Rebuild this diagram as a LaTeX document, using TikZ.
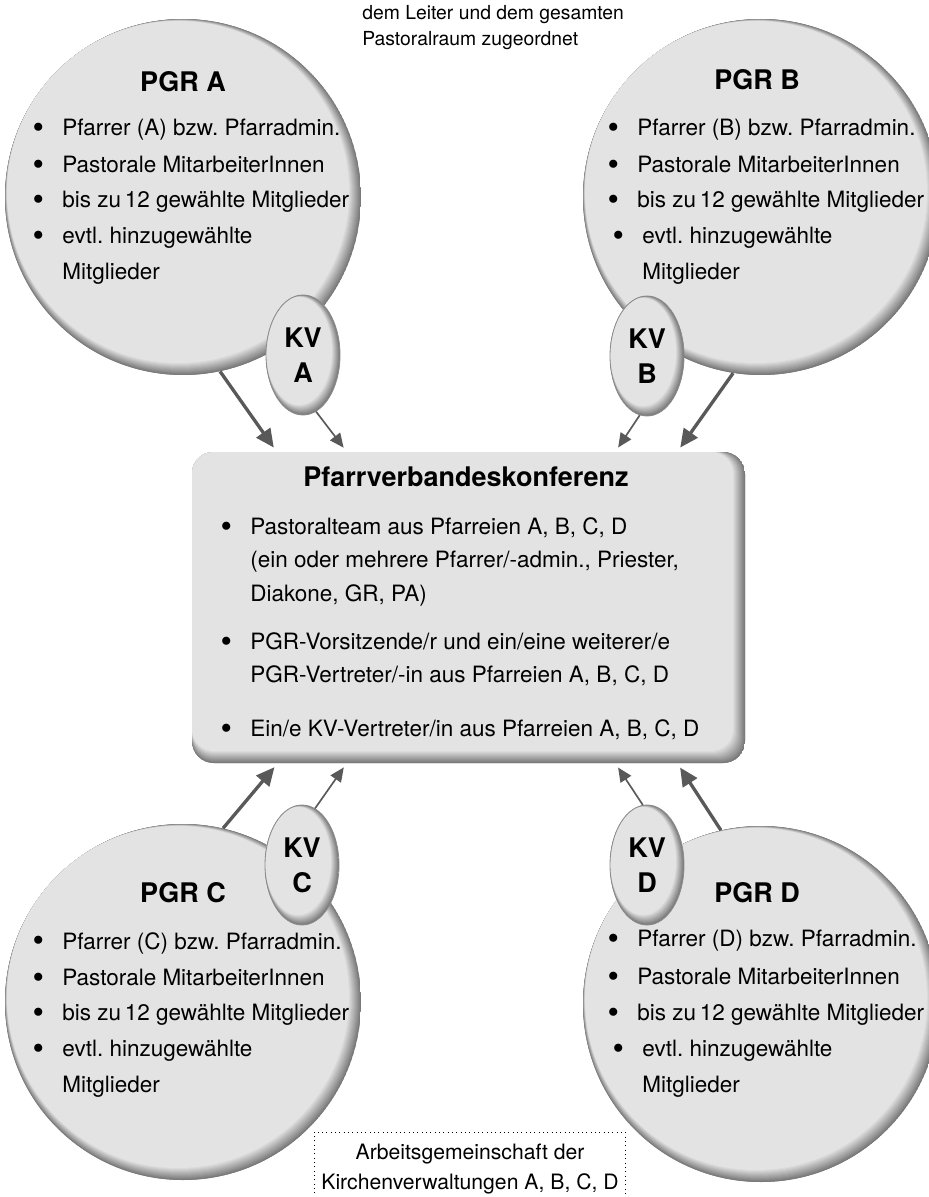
\documentclass[tikz,border=0pt]{standalone}
\usepackage{fontspec}
\setmainfont{TeX Gyre Heros}
\usetikzlibrary{arrows.meta,shapes.geometric,calc}

\definecolor{disc}{HTML}{E3E3E3}
\definecolor{rim}{HTML}{7A7A7A}
\definecolor{arrowgray}{HTML}{595959}
\definecolor{ovalrim}{HTML}{8C8C8C}

\newcommand{\bul}{\llap{\raisebox{-0.25ex}{\scalebox{1.45}{\textbullet}}\hspace{11pt}}}

\tikzset{
  pgrdisc/.style={circle, minimum size=213.6pt, inner sep=0pt,
    path picture={
      \fill [rim] (path picture bounding box.south west) rectangle (path picture bounding box.north east);
      \foreach \k in {0,...,12} {
        \pgfmathtruncatemacro\pc{100*\k/12}
        \fill [disc!\pc!rim] ([shift={({-0.25*\k*1pt},{0.25*\k*1pt})}]path picture bounding box.center)
          circle [radius={106.8pt-0.35*\k*1pt}];
      }
    }},
  konfbox/.style={rectangle, rounded corners=13pt, minimum width=331.8pt, minimum height=186.6pt, inner sep=0pt,
    path picture={
      \fill [rim] (path picture bounding box.south west) rectangle (path picture bounding box.north east);
      \foreach \k in {0,...,12} {
        \pgfmathtruncatemacro\pc{100*\k/12}
        \fill [disc!\pc!rim, rounded corners=13pt] (path picture bounding box.north west)
          rectangle ([shift={({-0.6*\k*1pt},{0.6*\k*1pt})}]path picture bounding box.south east);
      }
    }},
  kvoval/.style={ellipse, draw=ovalrim, line width=0.5pt, minimum width=44.4pt, minimum height=72pt,
    inner sep=0pt, align=center, font=\fontsize{16.2}{21}\selectfont\bfseries,
    path picture={
      \fill [rim] (path picture bounding box.south west) rectangle (path picture bounding box.north east);
      \foreach \k in {0,...,12} {
        \pgfmathtruncatemacro\pc{100*\k/12}
        \fill [disc!\pc!rim] ([shift={({-0.2*\k*1pt},{0.2*\k*1pt})}]path picture bounding box.center)
          ellipse [x radius={22.2pt-0.2*\k*1pt}, y radius={36pt-0.3*\k*1pt}];
      }
    }},
  headtxt/.style={inner sep=0pt, font=\fontsize{16.2}{19}\selectfont\bfseries},
  itemtxt/.style={anchor=west, inner sep=0pt, font=\fontsize{13.5}{16}\selectfont},
  notetxt/.style={anchor=west, inner sep=0pt, font=\fontsize{11.6}{14}\selectfont},
  agtxt/.style={inner sep=0pt, font=\fontsize{12.7}{15}\selectfont},
  bigarrow/.style={draw=arrowgray, line width=2pt, shorten >=3pt, -{Triangle[length=11pt,width=10pt]}},
  smallarrow/.style={draw=arrowgray, line width=1pt, shorten >=3pt, -{Triangle[length=8.5pt,width=7.5pt]}}
}

\begin{document}
\frenchspacing
\begin{tikzpicture}[x=0.6pt, y=-0.6pt]

\useasboundingbox (0,0) rectangle (929,1197);

% the four parish councils
\node [pgrdisc] (pgrA) at (183,197) {};
\node [pgrdisc] (pgrB) at (761,197) {};
\node [pgrdisc] (pgrC) at (183,1002) {};
\node [pgrdisc] (pgrD) at (761,1004) {};

% Kirchenverwaltungen
\node [kvoval] (kvA) at (303,355) {KV\\A};
\node [kvoval] (kvB) at (647,356) {KV\\B};
\node [kvoval] (kvC) at (302,865) {KV\\C};
\node [kvoval] (kvD) at (647,865) {KV\\D};

% conference
\node [konfbox] (konf) at (468.5,607.5) {};

\node [notetxt] (note1) at (362,15) {dem Leiter und dem gesamten};
\node [notetxt] (note2) at (362,41) {Pastoralraum zugeordnet};

\node [headtxt] (titleA) at (183,82) {PGR A};
\node [itemtxt] (a1) at (62,130) {\bul Pfarrer (A) bzw. Pfarradmin.};
\node [itemtxt] (a2) at (62,166) {\bul Pastorale MitarbeiterInnen};
\node [itemtxt] (a3) at (62,202) {\bul bis zu\,12 gewählte Mitglieder};
\node [itemtxt] (a4) at (62,238) {\bul evtl. hinzugewählte};
\node [itemtxt] (a5) at (62,274) {Mitglieder};

\node [headtxt] (titleB) at (757,80) {PGR B};
\node [itemtxt] (b1) at (637,130) {\bul Pfarrer (B) bzw. Pfarradmin.};
\node [itemtxt] (b2) at (637,166) {\bul Pastorale MitarbeiterInnen};
\node [itemtxt] (b3) at (637,202) {\bul bis zu\,12 gewählte Mitglieder};
\node [itemtxt] (b4) at (642,238) {\bul evtl. hinzugewählte};
\node [itemtxt] (b5) at (642,274) {Mitglieder};

\node [headtxt] (titleC) at (183,893) {PGR C};
\node [itemtxt] (c1) at (62,943) {\bul Pfarrer (C) bzw. Pfarradmin.};
\node [itemtxt] (c2) at (62,979) {\bul Pastorale MitarbeiterInnen};
\node [itemtxt] (c3) at (62,1015) {\bul bis zu\,12 gewählte Mitglieder};
\node [itemtxt] (c4) at (62,1051) {\bul evtl. hinzugewählte};
\node [itemtxt] (c5) at (62,1087) {Mitglieder};

\node [headtxt] (titleD) at (757,893) {PGR D};
\node [itemtxt] (d1) at (637,941) {\bul Pfarrer (D) bzw. Pfarradmin.};
\node [itemtxt] (d2) at (637,978) {\bul Pastorale MitarbeiterInnen};
\node [itemtxt] (d3) at (637,1015) {\bul bis zu\,12 gewählte Mitglieder};
\node [itemtxt] (d4) at (642,1051) {\bul evtl. hinzugewählte};
\node [itemtxt] (d5) at (642,1087) {Mitglieder};

\node [headtxt] (titleK) at (466,477) {Pfarrverbandeskonferenz};
\node [itemtxt] (k1) at (250,528) {\bul Pastoralteam aus Pfarreien A, B, C, D};
\node [itemtxt] (k2) at (250,562) {(ein oder mehrere Pfarrer/-admin., Priester,};
\node [itemtxt] (k3) at (250,595) {Diakone, GR, PA)};
\node [itemtxt] (k4) at (250,643) {\bul PGR-Vorsitzende/r und ein/eine weiterer/e};
\node [itemtxt] (k5) at (250,676) {PGR-Vertreter/-in aus Pfarreien A, B, C, D};
\node [itemtxt] (k6) at (250,730) {\bul Ein/e KV-Vertreter/in aus Pfarreien A, B, C, D};

% Arbeitsgemeinschaft
\draw [dotted, line width=0.6pt] (314,1215) -- (314,1132) -- (625,1132) -- (625,1215);
\node [agtxt] (ag1) at (470,1154) {Arbeitsgemeinschaft der};
\node [agtxt] (ag2) at (470,1184) {Kirchenverwaltungen A, B, C, D};

% arrows into the conference
\draw [bigarrow] (pgrA.-78) -- ($(konf.north west)+(85,0)$);
\draw [smallarrow] (kvA.-77) -- ($(konf.north west)+(155,0)$);
\draw [bigarrow] (pgrB.-99) -- ($(konf.north east)+(-68,0)$);
\draw [smallarrow] (kvB.-97) -- ($(konf.north east)+(-130,0)$);
\draw [bigarrow] (pgrC.77) -- ($(konf.south west)+(86,0)$);
\draw [smallarrow] (kvC.77) -- ($(konf.south west)+(155,0)$);
\draw [bigarrow] (pgrD.103) -- ($(konf.south east)+(-68,0)$);
\draw [smallarrow] (kvD.94) -- ($(konf.south east)+(-130,0)$);

\end{tikzpicture}
\end{document}
